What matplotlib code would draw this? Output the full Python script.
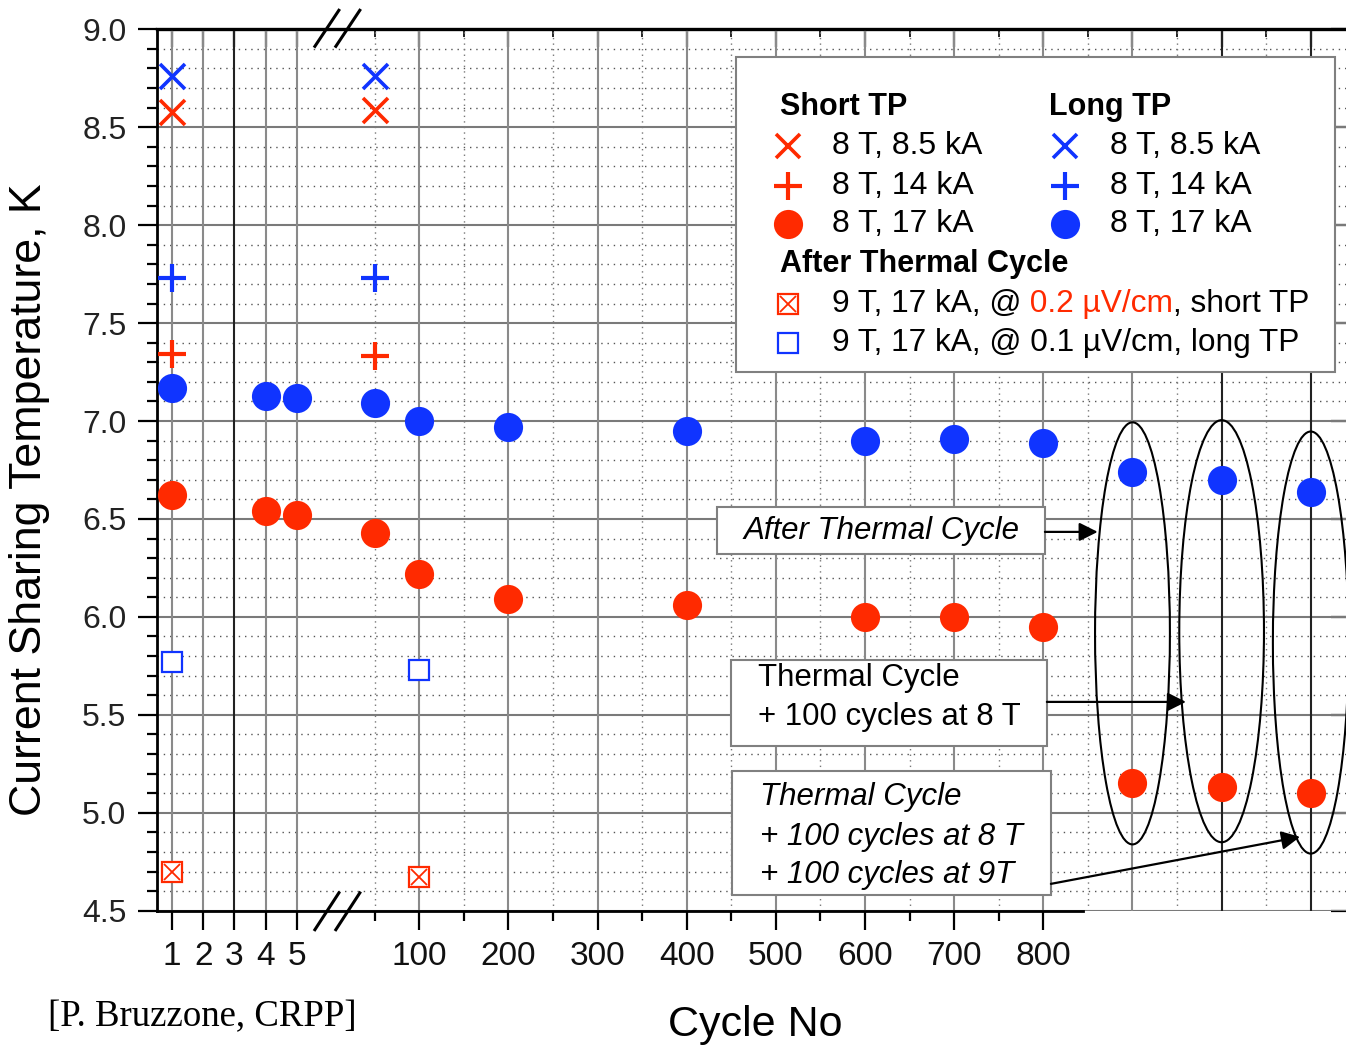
import numpy as np
import matplotlib
matplotlib.use("Agg")
import matplotlib.pyplot as plt
from matplotlib.patches import Ellipse, Rectangle

plt.rcParams['font.family'] = ['Liberation Sans', 'DejaVu Sans']

RED = '#ff2a00'
BLUE = '#1034ff'

# --- data (current sharing temperature, K) ---
cycles_85 = [1, 50]
short_85 = [8.58, 8.59]
long_85 = [8.76, 8.76]

cycles_14 = [1, 50]
short_14 = [7.34, 7.33]
long_14 = [7.73, 7.73]

cycles_17 = [1, 4, 5, 50, 100, 200, 400, 600, 700, 800]
short_17 = [6.62, 6.54, 6.52, 6.43, 6.22, 6.09, 6.06, 6.00, 6.00, 5.95]
long_17 = [7.17, 7.13, 7.12, 7.09, 7.00, 6.97, 6.95, 6.90, 6.91, 6.89]

# after the thermal cycle (three stages, drawn right of 800)
tc_stages = ['TC', 'TC + 100 cycles at 8 T', 'TC + 100 at 8 T + 100 at 9 T']
tc_short_17 = [5.15, 5.13, 5.10]
tc_long_17 = [6.74, 6.70, 6.64]

cycles_9T = [1, 100]
short_9T = [4.70, 4.67]
long_9T = [5.77, 5.73]

small_ticks = [1, 2, 3, 4, 5]
large_ticks = [100, 200, 300, 400, 500, 600, 700, 800]
minor_cycles = [50, 150, 250, 350, 450, 550, 650, 750]


def xpos(c):
    # broken axis: cycles 1..5 spread out, then linear in hundreds
    if c <= 5:
        return -1.771 + (c - 1) * 0.349
    return c / 100.0


def tc_pos(i):
    return 9 + i


fig = plt.figure(figsize=(13.46, 10.47), dpi=100)
ax = fig.add_axes([157 / 1346, 1 - 910.7 / 1047, 1193 / 1346, 881.4 / 1047])
ax.set_xlim(-1.942, 11.44)
ax.set_ylim(4.5, 9.0)

# grid
for y in np.arange(4.5, 9.01, 0.5):
    ax.axhline(y, color='#7a7a7a', lw=1.5, zorder=0.5)
for y in np.arange(4.6, 9.0, 0.1):
    if abs(y * 2 - round(y * 2)) > 1e-6:
        ax.axhline(y, color='#555555', lw=1.0, ls=(0, (1, 3.5)), zorder=0.4)
vlines = [xpos(c) for c in small_ticks + large_ticks] + [tc_pos(i) for i in range(3)]
for x in vlines:
    dark = x in (xpos(3), tc_pos(1), tc_pos(2))
    ax.axvline(x, color='#222222' if dark else '#8a8a8a', lw=1.5, zorder=0.5)
for x in [xpos(c) for c in minor_cycles] + [8.5, 9.5, 10.5]:
    ax.axvline(x, color='#777777', lw=1.0, ls=(0, (1, 3)), zorder=0.4)

# data marks
xk = dict(ls='none', zorder=3, clip_on=False)
ax.plot([xpos(c) for c in cycles_85], short_85, 'x', color=RED, ms=18, mew=2.6, **xk)
ax.plot([xpos(c) for c in cycles_85], long_85, 'x', color=BLUE, ms=18, mew=2.6, **xk)
ax.plot([xpos(c) for c in cycles_14], short_14, '+', color=RED, ms=20, mew=3, **xk)
ax.plot([xpos(c) for c in cycles_14], long_14, '+', color=BLUE, ms=20, mew=3, **xk)
ax.plot([xpos(c) for c in cycles_17], short_17, 'o', color=RED, ms=21, mec='none', **xk)
ax.plot([xpos(c) for c in cycles_17], long_17, 'o', color=BLUE, ms=21, mec='none', **xk)
ax.plot([tc_pos(i) for i in range(len(tc_stages))], tc_short_17, 'o', color=RED, ms=21, mec='none', **xk)
ax.plot([tc_pos(i) for i in range(len(tc_stages))], tc_long_17, 'o', color=BLUE, ms=21, mec='none', **xk)
ax.plot([xpos(c) for c in cycles_9T], short_9T, 's', mfc='white', mec=RED, ms=15, mew=1.6, **xk)
ax.plot([xpos(c) for c in cycles_9T], short_9T, 'x', color=RED, ms=12, mew=1.3, **xk)
ax.plot([xpos(c) for c in cycles_9T], long_9T, 's', mfc='white', mec=BLUE, ms=15, mew=1.6, **xk)

# ellipses round the thermal-cycle points
for i, (cy, w) in enumerate([(5.916, 0.84), (5.927, 0.95), (5.869, 0.85)]):
    ax.add_patch(Ellipse((tc_pos(i), cy), w, 2.155, fill=False, ec='black', lw=1.5, zorder=4))

# annotation boxes with arrows
arrow = dict(arrowstyle='-|>', color='black', lw=1.6, mutation_scale=28, shrinkA=0, shrinkB=0)
boxes = [
    ((4.339, 6.32), 3.679, 0.242),
    ((4.495, 5.342), 3.545, 0.439),
    ((4.507, 4.581), 3.578, 0.633),
]
for (x0, y0), w, h in boxes:
    ax.add_patch(Rectangle((x0, y0), w, h, fc='white', ec='#808080', lw=1.5, zorder=5))
ax.text(6.18, 6.441, 'After Thermal Cycle', style='italic', fontsize=22.5,
        ha='center', va='center', zorder=6)
ax.text(4.80, 5.69, 'Thermal Cycle', fontsize=22.5, ha='left', va='center', zorder=6)
ax.text(4.80, 5.49, '+ 100 cycles at 8 T', fontsize=22.5, ha='left', va='center', zorder=6)
ax.text(4.82, 5.08, 'Thermal Cycle', style='italic', fontsize=22.5, ha='left', va='center', zorder=6)
ax.text(4.82, 4.875, '+ 100 cycles at 8 T', style='italic', fontsize=22.5, ha='left', va='center', zorder=6)
ax.text(4.82, 4.68, '+ 100 cycles at 9T', style='italic', fontsize=22.5, ha='left', va='center', zorder=6)
ax.annotate('', xy=(8.61, 6.434), xytext=(8.018, 6.434), arrowprops=arrow, zorder=6)
ax.annotate('', xy=(9.60, 5.566), xytext=(8.04, 5.566), arrowprops=arrow, zorder=6)
ax.annotate('', xy=(10.88, 4.877), xytext=(8.085, 4.637), arrowprops=arrow, zorder=6)

# axis break marks
for dx in (0.0, 0.235):
    ax.plot([-0.171 + dx, 0.098 + dx], [4.403, 4.591], color='black', lw=2.2, clip_on=False, zorder=7)
    ax.plot([-0.171 + dx, 0.098 + dx], [8.913, 9.097], color='black', lw=2.2, clip_on=False, zorder=7)

# legend drawn by hand
ta = ax.transAxes
ax.add_patch(Rectangle((0.4853, 0.6112), 0.5021, 0.3574, transform=ta, fc='white',
                       ec='#808080', lw=1.5, zorder=8))
lk = dict(transform=ta, ls='none', zorder=9, clip_on=False)
ax.text(0.5222, 0.9118, 'Short TP', fontsize=22, weight='bold', va='center', transform=ta, zorder=9)
ax.text(0.7477, 0.9118, 'Long TP', fontsize=22, weight='bold', va='center', transform=ta, zorder=9)
rows = [0.8676, 0.8222, 0.7791]
labels = ['8 T, 8.5 kA', '8 T, 14 kA', '8 T, 17 kA']
styles = [dict(marker='x', ms=17, mew=2.6), dict(marker='+', ms=20, mew=3),
          dict(marker='o', ms=21, mec='none')]
for ry, lab, st in zip(rows, labels, styles):
    ax.plot([0.5289], [ry], color=RED, **st, **lk)
    ax.plot([0.7611], [ry], color=BLUE, **st, **lk)
    ax.text(0.5658, ry, lab, fontsize=23, va='center', transform=ta, zorder=9)
    ax.text(0.7988, ry, lab, fontsize=23, va='center', transform=ta, zorder=9)
ax.text(0.5222, 0.7337, 'After Thermal Cycle', fontsize=22, weight='bold', va='center',
        transform=ta, zorder=9)
ax.plot([0.5289], [0.6883], 's', mfc='white', mec=RED, ms=15, mew=1.6, **lk)
ax.plot([0.5289], [0.6883], 'x', color=RED, ms=12, mew=1.3, **lk)
ax.plot([0.5289], [0.6441], 's', mfc='white', mec=BLUE, ms=15, mew=1.6, **lk)
t1 = ax.text(0.5658, 0.6883, '9 T, 17 kA, @', fontsize=22.8, va='center', transform=ta, zorder=9)
t2 = ax.annotate(' 0.2 \u00b5V/cm', xy=(1, 0), xycoords=t1, va='bottom', fontsize=22.8,
                 color=RED, zorder=9)
ax.annotate(', short TP', xy=(1, 0), xycoords=t2, va='bottom', fontsize=22.8, zorder=9)
ax.text(0.5658, 0.6441, '9 T, 17 kA, @ 0.1 \u00b5V/cm, long TP', fontsize=22.8, va='center',
        transform=ta, zorder=9)

# ticks: bottom / left
ax.set_xticks([xpos(c) for c in small_ticks + large_ticks],
              labels=[str(c) for c in small_ticks + large_ticks])
ax.set_xticks([xpos(c) for c in minor_cycles], minor=True)
ax.set_yticks(np.arange(4.5, 9.01, 0.5), labels=['%.1f' % v for v in np.arange(4.5, 9.01, 0.5)])
ax.set_yticks(np.arange(4.5, 9.01, 0.1), minor=True)
ax.tick_params(axis='x', which='major', direction='out', length=14, width=1.6, labelsize=24,
               pad=8, colors='black', labelcolor='#111111')
ax.tick_params(axis='x', which='minor', direction='out', length=7, width=1.6)
ax.tick_params(axis='y', which='major', direction='out', length=14, width=1.6, labelsize=23,
               pad=8, labelcolor='#222222')
ax.tick_params(axis='y', which='minor', direction='out', length=7, width=1.6)
ax.spines['bottom'].set_bounds(-1.942, 8.45)
for s in ('bottom', 'left', 'top'):
    ax.spines[s].set_linewidth(2)

top = ax.secondary_xaxis('top')
top.set_xticks(vlines)
top.set_xticks([xpos(c) for c in minor_cycles] + [8.5, 9.5, 10.5], minor=True)
top.tick_params(which='major', direction='in', length=13, width=1.6, labeltop=False)
top.tick_params(which='minor', direction='in', length=6, width=1.2)
top.spines['top'].set_linewidth(2.4)

right = ax.secondary_yaxis('right')
right.set_yticks(np.arange(4.5, 9.01, 0.5))
right.tick_params(direction='in', length=14, width=1.6, labelright=False)

# labels
fig.text(30 / 1346, 1 - 500 / 1047, 'Current Sharing Temperature, K', rotation=90,
         fontsize=32.2, ha='center', va='center')
fig.text(755 / 1346, 1 - 1025 / 1047, 'Cycle No', fontsize=31, ha='center', va='center')
fig.text(48 / 1346, 1 - 1017 / 1047, '[P. Bruzzone, CRPP]', fontsize=26.5,
         family='Liberation Serif', ha='left', va='center')

fig.savefig('out.png', dpi=100)
